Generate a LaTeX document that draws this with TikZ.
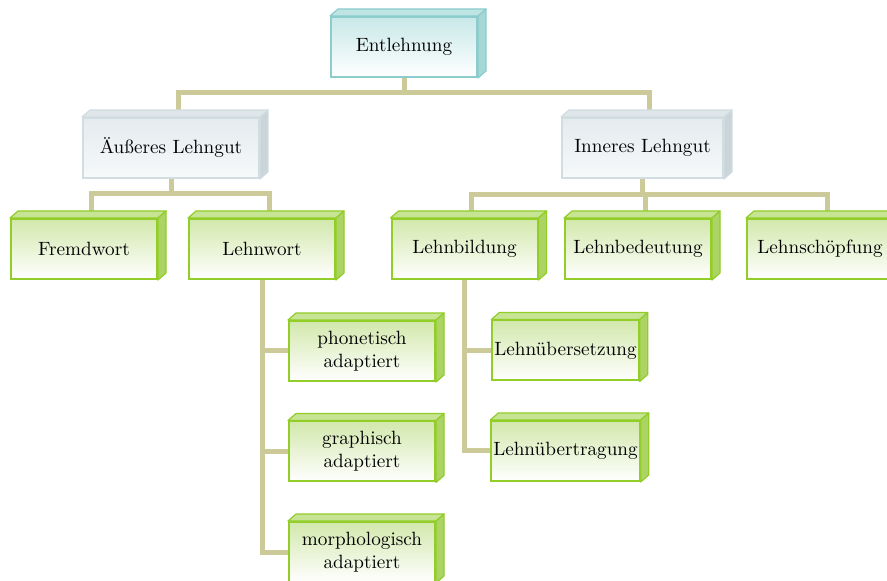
\documentclass[tikz,border=0pt]{standalone}
\usetikzlibrary{calc}

\definecolor{LeafLine}{RGB}{146,205,40}
\definecolor{LeafTop}{RGB}{210,232,172}
\definecolor{LeafRoof}{RGB}{198,228,148}
\definecolor{LeafSide}{RGB}{172,212,100}
\definecolor{RootLine}{RGB}{140,204,204}
\definecolor{RootTop}{RGB}{200,232,232}
\definecolor{RootRoof}{RGB}{190,228,228}
\definecolor{RootSide}{RGB}{165,215,215}
\definecolor{MidLine}{RGB}{210,221,225}
\definecolor{MidTop}{RGB}{228,235,238}
\definecolor{MidRoof}{RGB}{222,230,233}
\definecolor{MidSide}{RGB}{202,213,217}
\definecolor{ConnCol}{RGB}{204,202,152}

\begin{document}
\begin{tikzpicture}[%
		x=0.5pt, y=-0.5pt,
		font=\fontsize{9.6}{11.5}\selectfont,
		box/.style={rectangle, line width=1pt, inner sep=1pt, align=center, minimum height=30pt},
		leaf/.style={box, draw=LeafLine, top color=LeafTop, bottom color=white, minimum width=73pt},
		mid/.style={box, draw=MidLine, top color=MidTop, bottom color=white!70!MidTop},
		top/.style={box, draw=RootLine, top color=RootTop, bottom color=white, minimum width=73pt},
		conn/.style={draw=ConnCol, line width=2.5pt},
		face/.style={line width=0.6pt, line join=round}
		]

		%% Rahmen
		\useasboundingbox (0,0) rectangle (887,581);

		%% Ebene 0 und 1
		\node[top] (entl) at (404,47) {Entlehnung};
		\node[mid, minimum width=88pt] (aeuss) at (171,148) {Äußeres Lehngut};
		\node[mid, minimum width=80.5pt] (inn) at (642.5,148) {Inneres Lehngut};

		%% Ebene 2
		\node[leaf] (fremd) at (84,249) {Fremdwort};
		\node[leaf] (lehnw) at (262,249) {Lehnwort};
		\node[leaf] (lbild) at (464.5,249) {Lehnbildung};
		\node[leaf] (lbed) at (638,249) {Lehnbedeutung};
		\node[leaf] (lschoepf) at (820,249) {Lehnschöpfung};

		%% Ebene 3
		\node[leaf] (phon) at (362,351) {phonetisch\\adaptiert};
		\node[leaf] (graph) at (362,451.5) {graphisch\\adaptiert};
		\node[leaf] (morph) at (362,552) {morphologisch\\adaptiert};
		\node[leaf] (luebers) at (565.5,350.5) {Lehnübersetzung};
		\node[leaf] (luebertr) at (565.5,451) {Lehnübertragung};

		%% Verbindungen
		\coordinate (bus0) at (0,93);
		\coordinate (bus1) at (0,194);
		\coordinate (bus2) at (0,195);
		\draw[conn] (entl.south) -- (entl.south |- bus0);
		\draw[conn] ($(aeuss.north)+(7,0)$) |- ($(inn.north |- bus0)+(7,0)$) -- ($(inn.north)+(7,0)$);
		\draw[conn] (aeuss.south) -- (aeuss.south |- bus1);
		\draw[conn] ($(fremd.north)+(7,0)$) |- ($(lehnw.north |- bus1)+(7,0)$) -- ($(lehnw.north)+(7,0)$);
		\draw[conn] (inn.south) -- (inn.south |- bus2);
		\draw[conn] ($(lbild.north)+(7,0)$) |- ($(lschoepf.north |- bus2)+(7,0)$) -- ($(lschoepf.north)+(7,0)$);
		\draw[conn] ($(lbed.north |- bus2)+(7,0)$) -- ($(lbed.north)+(7,0)$);

		\foreach \k in {phon,graph,morph}
			\draw[conn] (lehnw.south) |- (\k.west);
		\foreach \k in {luebers,luebertr}
			\draw[conn] (lbild.south) |- (\k.west);

		%% 3D-Seiten
		\foreach \n/\ln/\rf/\sd in {entl/RootLine/RootRoof/RootSide,
				aeuss/MidLine/MidRoof/MidSide, inn/MidLine/MidRoof/MidSide,
				fremd/LeafLine/LeafRoof/LeafSide, lehnw/LeafLine/LeafRoof/LeafSide,
				lbild/LeafLine/LeafRoof/LeafSide, lbed/LeafLine/LeafRoof/LeafSide,
				lschoepf/LeafLine/LeafRoof/LeafSide, phon/LeafLine/LeafRoof/LeafSide,
				graph/LeafLine/LeafRoof/LeafSide, morph/LeafLine/LeafRoof/LeafSide,
				luebers/LeafLine/LeafRoof/LeafSide, luebertr/LeafLine/LeafRoof/LeafSide} {
			\filldraw[face, draw=\ln, fill=\rf] (\n.north west) -- ++(8,-7) -- ($(\n.north east)+(8,-7)$) -- (\n.north east) -- cycle;
			\filldraw[face, draw=\ln, fill=\sd] (\n.north east) -- ++(8,-7) -- ($(\n.south east)+(8,-7)$) -- (\n.south east) -- cycle;
		}
	\end{tikzpicture}
\end{document}
